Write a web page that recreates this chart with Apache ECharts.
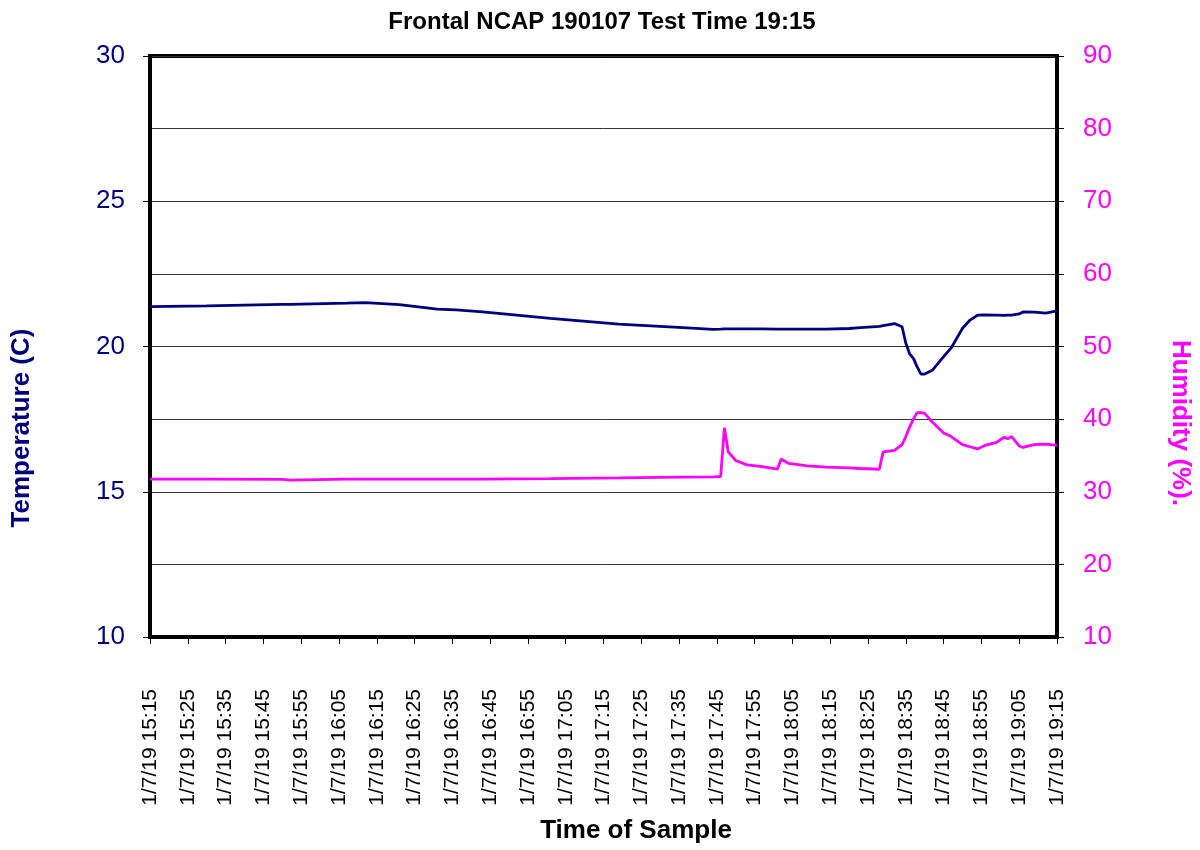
<!DOCTYPE html>
<html>
<head>
<meta charset="utf-8">
<title>Frontal NCAP 190107</title>
<script src="https://cdn.jsdelivr.net/npm/echarts@6/dist/echarts.min.js"></script>
<style>
  html, body { margin: 0; padding: 0; background: #fff; }
  #chart { width: 1200px; height: 850px; }
</style>
</head>
<body>
<div id="chart"></div>
<script>
// sample times (1/7/19) and readings
var sampleTimes = [
  '15:15', '15:30', '15:50', '15:52', '16:07', '16:12', '16:21', '16:31', '16:36', '16:43',
  '17:01', '17:19', '17:36', '17:44', '17:46', '17:47', '17:48', '17:50', '17:53', '17:57',
  '18:01', '18:02', '18:04', '18:09', '18:14', '18:20', '18:23', '18:28', '18:29', '18:32',
  '18:34', '18:35', '18:36', '18:37', '18:38', '18:39', '18:40', '18:42', '18:45', '18:47',
  '18:50', '18:52', '18:54', '18:56', '18:59', '19:01', '19:02', '19:03', '19:05', '19:06',
  '19:09', '19:12', '19:15'
]
var temperature = [
  21.37, 21.40, 21.45, 21.45, 21.49, 21.51, 21.44, 21.29, 21.26, 21.19,
  20.97, 20.77, 20.65, 20.59, 20.60, 20.61, 20.61, 20.61, 20.61, 20.61,
  20.60, 20.60, 20.60, 20.60, 20.60, 20.62, 20.65, 20.69, 20.72, 20.79,
  20.68, 20.11, 19.75, 19.59, 19.30, 19.05, 19.05, 19.18, 19.65, 19.95,
  20.63, 20.91, 21.08, 21.09, 21.08, 21.07, 21.08, 21.08, 21.12, 21.19,
  21.18, 21.15, 21.23
]
var humidity = [
  31.75, 31.75, 31.70, 31.60, 31.75, 31.75, 31.75, 31.75, 31.75, 31.75,
  31.80, 31.90, 32.00, 32.05, 32.10, 38.80, 35.50, 34.30, 33.70, 33.45,
  33.10, 34.50, 33.90, 33.55, 33.40, 33.30, 33.20, 33.10, 35.50, 35.70,
  36.50, 37.60, 38.90, 40.00, 40.90, 40.90, 40.80, 39.60, 38.10, 37.60,
  36.50, 36.20, 35.90, 36.40, 36.80, 37.50, 37.30, 37.60, 36.30, 36.10,
  36.50, 36.55, 36.40
]
var startTime = '15:15'
var endTime = '19:15'
var tempTicks = [10, 15, 20, 25, 30]
var humidityTicks = [10, 20, 30, 40, 50, 60, 70, 80, 90]

var NAVY = '#000080'
var MAGENTA = '#FF00FF'
var FONT = 'Liberation Sans, Arial, sans-serif'

function toMin(t) {
  var p = t.split(':')
  return Number(p[0]) * 60 + Number(p[1])
}
function minLabel(m) {
  var h = Math.floor(m / 60)
  var mm = m % 60
  return '1/7/19 ' + h + ':' + (mm < 10 ? '0' : '') + mm
}

var t0 = toMin(startTime)
var tempData = sampleTimes.map(function(t, i) { return [toMin(t), temperature[i]] })
var humData = sampleTimes.map(function(t, i) { return [toMin(t), humidity[i]] })

var chart = echarts.init(document.getElementById('chart'), null, { renderer: 'canvas' })

chart.setOption({
  animation: false,
  backgroundColor: '#fff',
  textStyle: { fontFamily: FONT },
  title: {
    text: 'Frontal NCAP 190107 Test Time 19:15',
    left: 597,
    top: 5,
    textAlign: 'center',
    textStyle: { fontSize: 24, fontWeight: 'bold', color: '#000', fontFamily: FONT }
  },
  grid: {
    left: 150,
    right: 143,
    top: 56,
    bottom: 213,
    show: true,
    borderColor: '#000',
    borderWidth: 4
  },
  xAxis: {
    type: 'value',
    min: t0,
    max: toMin(endTime),
    interval: 10,
    axisLine: { show: true, lineStyle: { color: '#000', width: 4 } },
    axisTick: { show: true, length: 7, lineStyle: { color: '#000', width: 1 } },
    splitLine: { show: false },
    axisLabel: {
      rotate: 90,
      margin: 52,
      fontSize: 21,
      color: '#000',
      fontFamily: FONT,
      formatter: function(v) { return minLabel(v) }
    }
  },
  yAxis: [
    {
      type: 'value',
      min: tempTicks[0],
      max: tempTicks[tempTicks.length - 1],
      interval: 5,
      position: 'left',
      axisLine: { show: true, lineStyle: { color: '#000', width: 4 } },
      axisTick: { show: true, length: 7, lineStyle: { color: '#000', width: 1 } },
      splitLine: { show: false },
      axisLabel: { margin: 25, fontSize: 26, color: NAVY, fontFamily: FONT }
    },
    {
      type: 'value',
      min: humidityTicks[0],
      max: humidityTicks[humidityTicks.length - 1],
      interval: 10,
      position: 'right',
      axisLine: { show: true, lineStyle: { color: '#000', width: 4 } },
      axisTick: { show: true, length: 7, lineStyle: { color: '#000', width: 1 } },
      splitLine: { show: true, lineStyle: { color: '#333', width: 1 } },
      axisLabel: { margin: 26, fontSize: 26, color: MAGENTA, fontFamily: FONT }
    }
  ],
  series: [
    {
      name: 'Temperature',
      type: 'line',
      yAxisIndex: 0,
      showSymbol: false,
      data: tempData,
      lineStyle: { color: NAVY, width: 2.8 },
      itemStyle: { color: NAVY },
      z: 3
    },
    {
      name: 'Humidity',
      type: 'line',
      yAxisIndex: 1,
      showSymbol: false,
      data: humData,
      lineStyle: { color: MAGENTA, width: 2.8 },
      itemStyle: { color: MAGENTA },
      z: 4
    }
  ],
  graphic: [
    {
      type: 'text',
      x: 22,
      y: 428,
      rotation: Math.PI / 2,
      style: {
        text: 'Temperature (C)',
        fill: NAVY,
        font: 'bold 26px ' + FONT,
        textAlign: 'center',
        textVerticalAlign: 'middle'
      }
    },
    {
      type: 'text',
      x: 1180,
      y: 423,
      rotation: -Math.PI / 2,
      style: {
        text: 'Humidity (%).',
        fill: MAGENTA,
        font: 'bold 26px ' + FONT,
        textAlign: 'center',
        textVerticalAlign: 'middle'
      }
    },
    {
      type: 'text',
      x: 636,
      y: 831,
      style: {
        text: 'Time of Sample',
        fill: '#000',
        font: 'bold 26px ' + FONT,
        textAlign: 'center',
        textVerticalAlign: 'middle'
      }
    }
  ]
})
</script>
</body>
</html>
